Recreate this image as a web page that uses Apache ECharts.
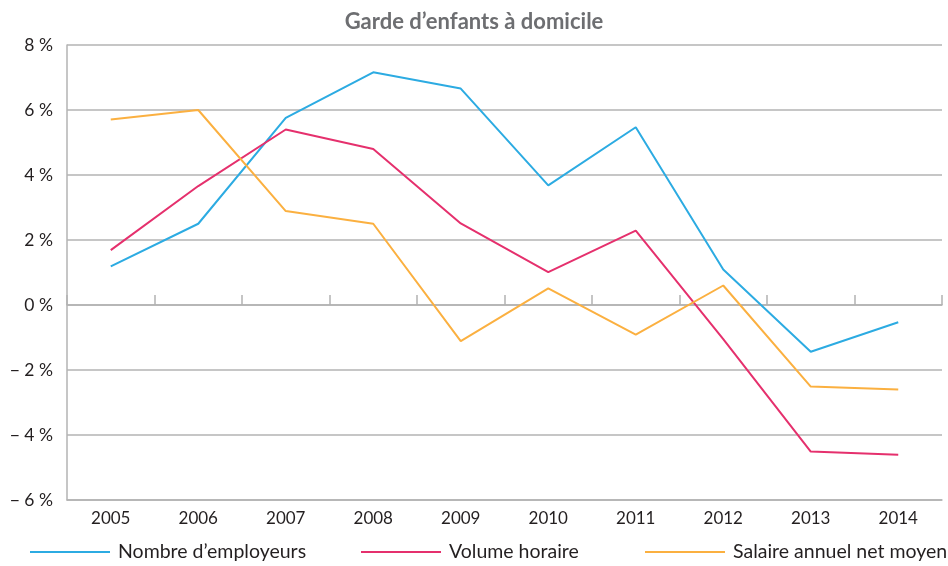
<!DOCTYPE html>
<html>
<head>
<meta charset="utf-8">
<script src="https://cdn.jsdelivr.net/npm/echarts@6/dist/echarts.min.js"></script>
<style>
  html, body { margin: 0; padding: 0; background: #fff; }
  #chart { width: 948px; height: 566px; }
</style>
</head>
<body>
<div id="chart"></div>
<script>
const years = ['2005', '2006', '2007', '2008', '2009', '2010', '2011', '2012', '2013', '2014']
const employeurs = [1.19, 2.5, 5.76, 7.16, 6.66, 3.68, 5.47, 1.09, -1.44, -0.53]
const volumeHoraire = [1.69, 3.66, 5.4, 4.8, 2.51, 1.01, 2.29, -1.05, -4.51, -4.61]
const salaire = [5.71, 6.0, 2.89, 2.5, -1.11, 0.51, -0.91, 0.6, -2.51, -2.6]
const seriesNames = ['Nombre d’employeurs', 'Volume horaire', 'Salaire annuel net moyen']
const colors = ['#2cabe2', '#e5306d', '#fbb040']

const font = 'Lato, "Open Sans", sans-serif'
const gridColor = '#b3b3b3'

const chart = echarts.init(document.getElementById('chart'))

function legendAt(name, left) {
  return {
    data: [name],
    left: left,
    top: 542,
    padding: 0,
    icon: 'rect',
    itemWidth: 80,
    itemHeight: 2,
    textStyle: { fontFamily: font, fontSize: 19.5, color: '#231f20', padding: [0, 0, 0, 3] }
  }
}

chart.setOption({
  animation: false,
  title: {
    text: 'Garde d’enfants à domicile',
    left: 'center',
    top: 6,
    textStyle: { fontFamily: font, fontSize: 22, fontWeight: 'bold', color: '#6d6e71' }
  },
  legend: [
    legendAt(seriesNames[0], 30),
    legendAt(seriesNames[1], 361),
    legendAt(seriesNames[2], 645)
  ],
  grid: { left: 67, right: 6, top: 45, bottom: 66 },
  xAxis: [
    {
      type: 'category',
      data: years,
      position: 'bottom',
      boundaryGap: true,
      axisLine: { onZero: false, show: true, lineStyle: { color: gridColor, width: 1.5 } },
      axisTick: { show: false },
      axisLabel: { fontFamily: font, fontSize: 17, color: '#231f20', margin: 10 }
    },
    {
      type: 'category',
      data: years,
      position: 'top',
      boundaryGap: true,
      axisLine: { onZero: true, show: true, lineStyle: { color: gridColor, width: 1.5 } },
      axisTick: { show: true, length: 10, lineStyle: { color: gridColor, width: 1.5 } },
      axisLabel: { show: false }
    }
  ],
  yAxis: {
    type: 'value',
    min: -6,
    max: 8,
    interval: 2,
    axisLine: { show: true, lineStyle: { color: gridColor, width: 1.5 } },
    axisTick: { show: false },
    splitLine: { show: true, lineStyle: { color: gridColor, width: 1.5 } },
    axisLabel: {
      fontFamily: font,
      fontSize: 17.5,
      color: '#231f20',
      margin: 14,
      padding: [0, 0, 10, 0],
      formatter: v => (v < 0 ? '\u2212 ' + Math.abs(v) : v) + ' %'
    }
  },
  series: [employeurs, volumeHoraire, salaire].map((d, i) => ({
    name: seriesNames[i],
    type: 'line',
    xAxisIndex: 0,
    data: d,
    symbol: 'none',
    color: colors[i],
    lineStyle: { color: colors[i], width: 2 }
  }))
})
</script>
</body>
</html>
